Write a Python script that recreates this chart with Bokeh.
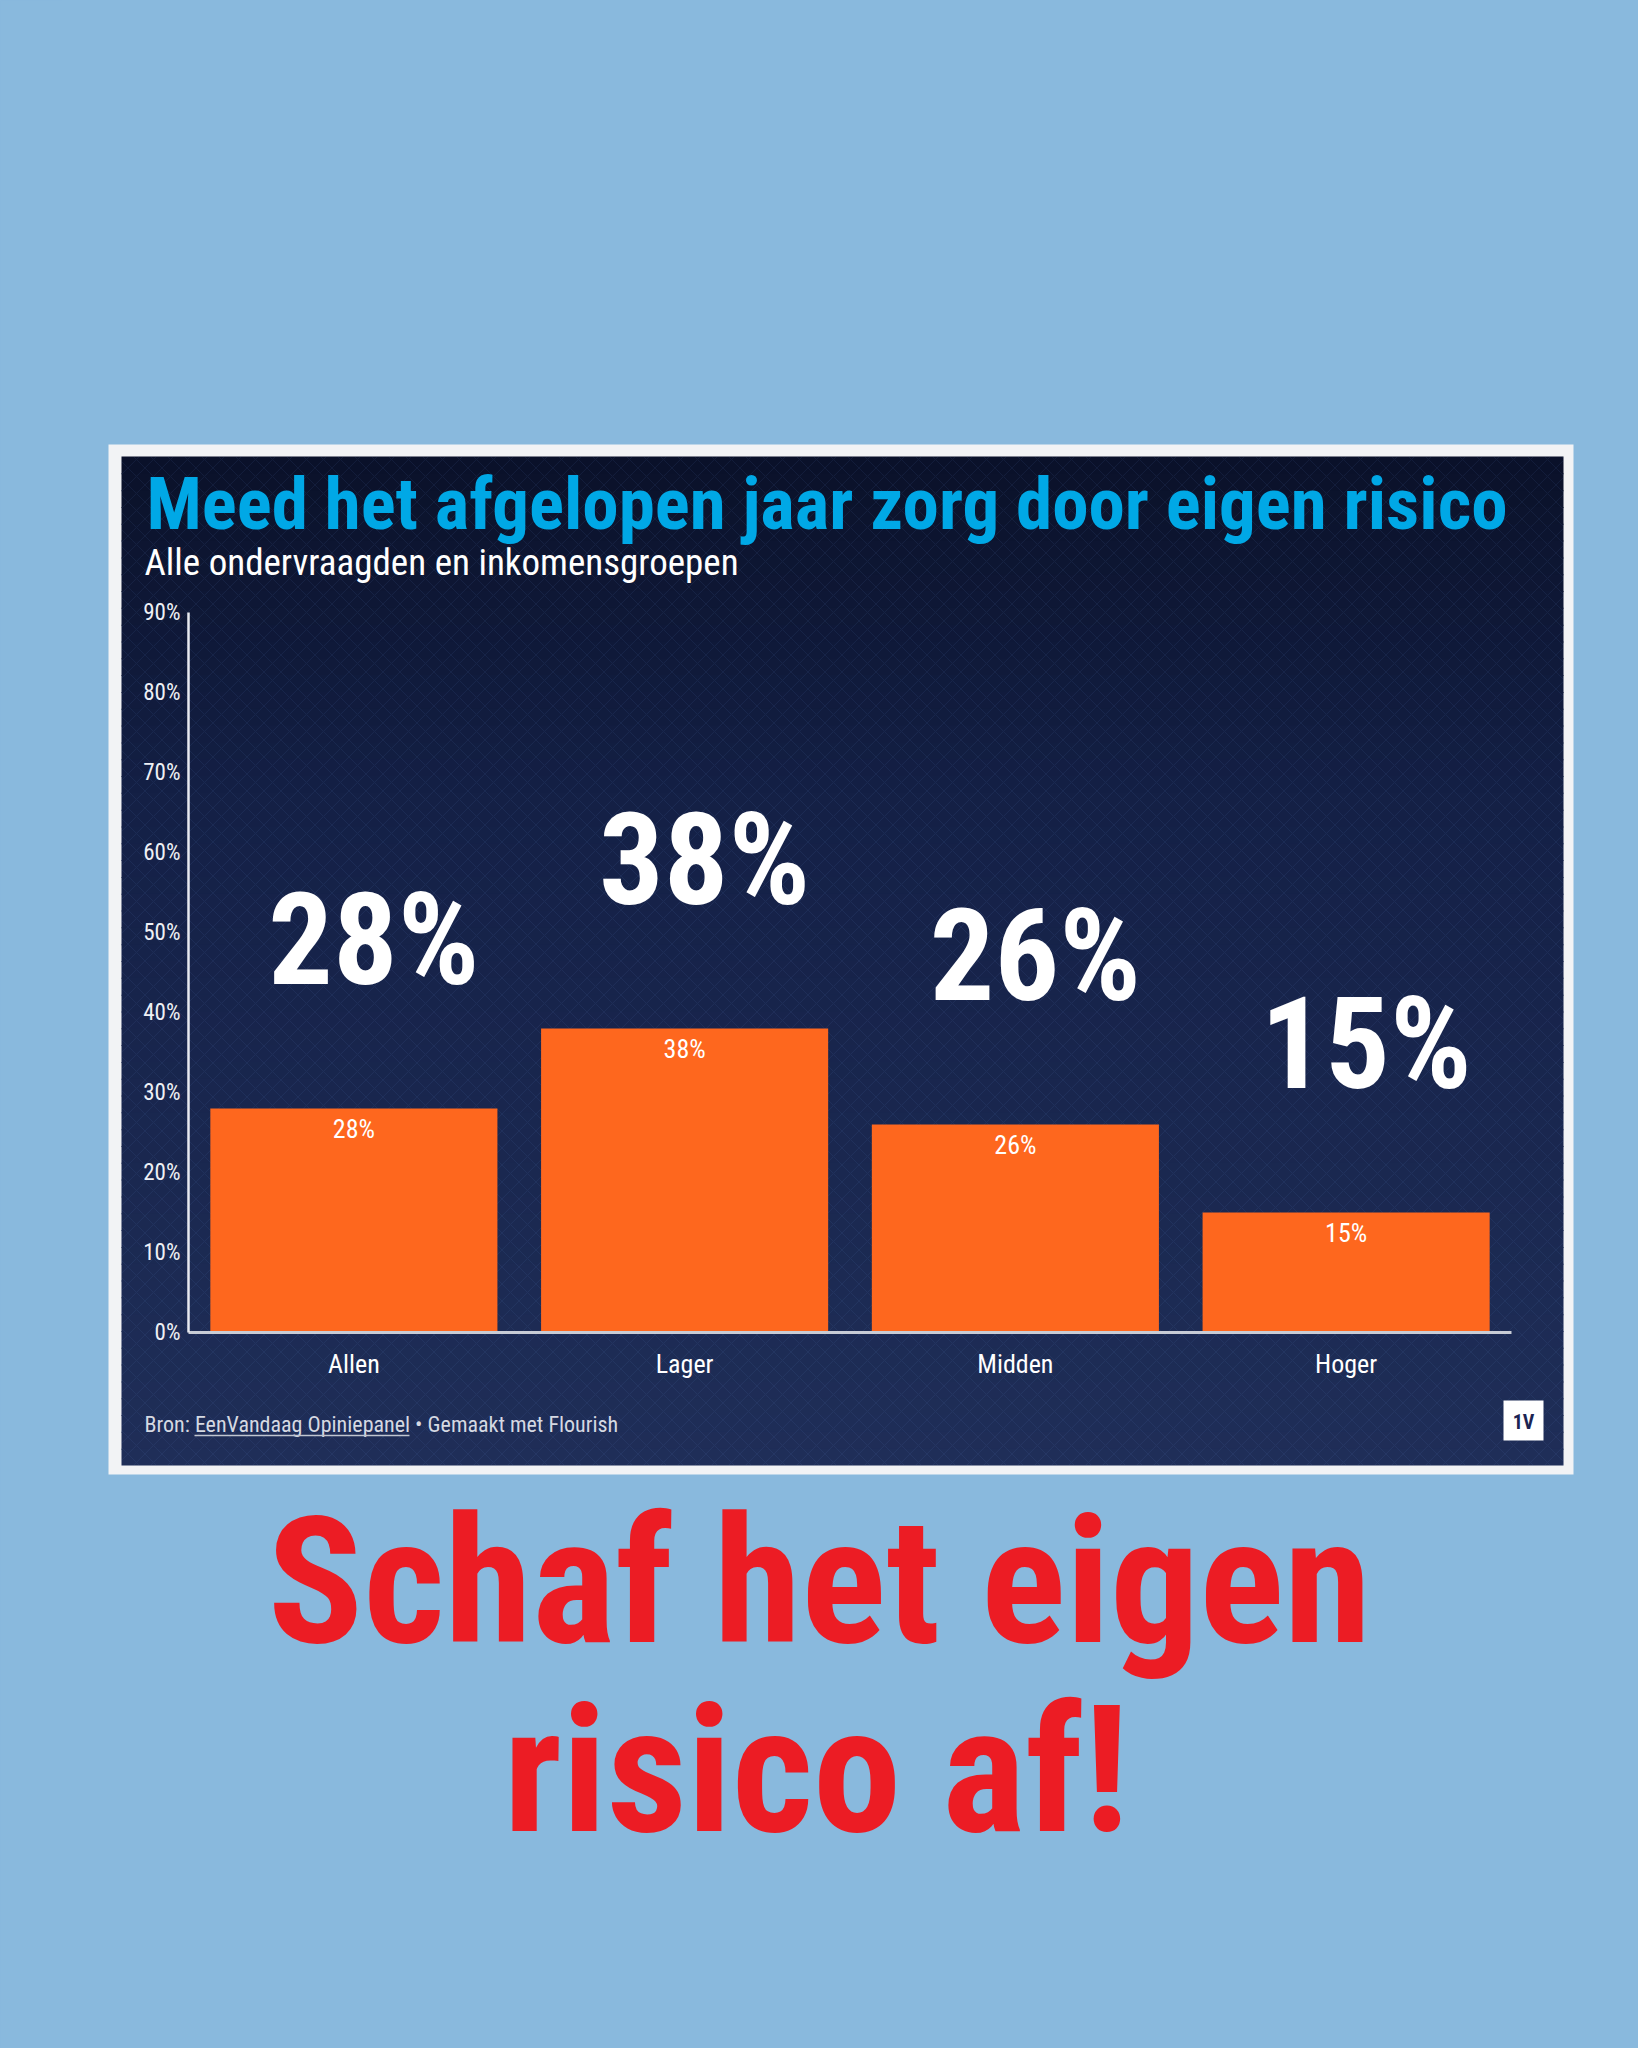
import numpy as np
from bokeh.plotting import figure
from bokeh.models import FactorRange, Range1d, FixedTicker, PrintfTickFormatter
from bokeh.core.properties import value
from bokeh.embed import file_html
from bokeh.resources import INLINE

# ---------------- data ----------------
categories = ["Allen", "Lager", "Midden", "Hoger"]
values = [28, 38, 26, 15]
y_ticks = [0, 10, 20, 30, 40, 50, 60, 70, 80, 90]
title_text = "Meed het afgelopen jaar zorg door eigen risico"
subtitle_text = "Alle ondervraagden en inkomensgroepen"
source_text = "Bron: EenVandaag Opiniepanel \u2022 Gemaakt met Flourish"
logo_text = "1V"
slogan_lines = ["Schaf het eigen", "risico af!"]

# ---------------- layout helpers (page pixels -> data) ----------------
W, H = 1638, 2048
AX_X = 188          # px where the first category band starts (y axis)
UNIT = 330.75       # px per category band
ZERO_Y = 1332       # px of 0 %
PX_PCT = 8          # px per percent
LEFT_BORDER = 61
BASE_FIX = 0.35     # baseline correction (fraction of font size)


def dx(px):
    return (px - AX_X) / UNIT


def dy(py):
    return (ZERO_Y - py) / PX_PCT


def dy_base(py, fs):
    # data y for an alphabetic baseline at page pixel py
    return dy(py - BASE_FIX * fs)


FONT = "'Roboto Condensed', 'Liberation Sans Narrow', 'DejaVu Sans Condensed', Roboto, sans-serif"
PAGE_BLUE = "#89B9DD"
FRAME = "#F2F3F5"
ORANGE = "#FE671E"
CYAN = "#00A8E6"
RED = "#EC1C24"

side_pad = ((W - LEFT_BORDER) / UNIT - len(categories)) / 2

p = figure(width=W, height=H,
           x_range=FactorRange(factors=categories, range_padding=side_pad,
                               range_padding_units="absolute"),
           y_range=Range1d(dy(H), dy(0)),
           output_backend="svg", toolbar_location=None,
           min_border_left=LEFT_BORDER, min_border_right=0,
           min_border_top=0, min_border_bottom=0)
p.styles = {"background-color": PAGE_BLUE}
p.background_fill_color = PAGE_BLUE
p.border_fill_color = PAGE_BLUE
p.outline_line_color = None
p.grid.visible = False

# white frame
p.quad(left=[dx(108)], right=[dx(1573)], top=[dy(444)], bottom=[dy(1474)],
       fill_color=FRAME, line_color=None)

# navy panel with vertical gradient
n = 60
edges = np.linspace(456, 1465, n + 1)
c_top = np.array([10, 17, 41])
c_mid = np.array([20, 32, 70])
c_bot = np.array([31, 46, 88])
cols = []
for i in range(n):
    t = (i + 0.5) / n
    if t < 0.35:
        c = c_top + (c_mid - c_top) * (t / 0.35)
    else:
        c = c_mid + (c_bot - c_mid) * ((t - 0.35) / 0.65)
    cols.append("#%02x%02x%02x" % tuple(int(round(v)) for v in c))
p.quad(left=[dx(121)] * n, right=[dx(1563)] * n,
       top=[dy(e) for e in edges[:-1]], bottom=[dy(min(e + 1, 1465)) for e in edges[1:]],
       fill_color=cols, line_color=None)
# faint lattice pattern
p.quad(left=[dx(121)], right=[dx(1563)], top=[dy(456)], bottom=[dy(1465)],
       fill_alpha=0, line_color=None, hatch_pattern="x", hatch_color="#5b7cc4",
       hatch_alpha=0.10, hatch_scale=17, hatch_weight=1)

# bars
p.vbar(x=categories, top=values, bottom=0, width=0.868,
       fill_color=ORANGE, line_color=None)

# labels inside bars
p.text(x=categories, y=[v - 2.5 for v in values], text=[f"{v}%" for v in values],
       text_align="center", text_baseline="middle", text_font_size="26px",
       text_color="white", text_font=value(FONT))

# big labels
BIG = 128
p.text(x=categories, y=[v + 15.5 + BASE_FIX * BIG / PX_PCT for v in values],
       text=[f"{v}%" for v in values],
       x_offset=20, text_align="center", text_baseline="alphabetic",
       text_font_size=f"{BIG}px", text_font_style="bold", text_color="white",
       text_font=value(FONT))

# title / subtitle
p.text(x=[dx(146)], y=[dy_base(529, 73)], text=[title_text], text_align="left",
       text_baseline="alphabetic", text_font_size="73px", text_font_style="bold",
       text_color=CYAN, text_font=value(FONT))
p.text(x=[dx(144)], y=[dy_base(575, 37)], text=[subtitle_text], text_align="left",
       text_baseline="alphabetic", text_font_size="37px", text_color="white",
       text_font=value(FONT))

# footer
p.text(x=[dx(144)], y=[dy(1424)], text=[source_text], text_align="left",
       text_baseline="middle", text_font_size="22px", text_color="#D5D9E2",
       text_font=value(FONT))
p.segment(x0=[dx(194)], x1=[dx(409)], y0=[dy(1435)], y1=[dy(1435)],
          line_color="#C0C5D0", line_width=1.5)

# logo
p.quad(left=[dx(1503)], right=[dx(1543)], top=[dy(1400)], bottom=[dy(1440)],
       fill_color="white", line_color=None)
p.text(x=[dx(1523)], y=[dy(1421)], text=[logo_text], text_align="center",
       text_baseline="middle", text_font_size="20px", text_font_style="bold",
       text_color="#1B2452", text_font=value(FONT))

# slogan
SLOGAN = 177
p.text(x=[dx(819), dx(816)], y=[dy_base(1643, SLOGAN), dy_base(1832, SLOGAN)],
       text=slogan_lines,
       text_align="center", text_baseline="alphabetic", text_font_size=f"{SLOGAN}px",
       text_font_style="bold", text_color=RED, text_font=value(FONT))

# axes
ya = p.yaxis[0]
ya.fixed_location = 0
ya.bounds = (0, 90)
ya.ticker = FixedTicker(ticks=y_ticks)
ya.formatter = PrintfTickFormatter(format="%d%%")
ya.axis_line_color = "#E8EAF0"
ya.axis_line_width = 2.5
ya.major_tick_line_color = None
ya.minor_tick_line_color = None
ya.major_tick_out = 0
ya.major_tick_in = 0
ya.major_label_text_color = "#EEF0F5"
ya.major_label_text_font_size = "23px"
ya.major_label_text_font = FONT
ya.major_label_standoff = 8

xa = p.xaxis[0]
xa.fixed_location = 0
xa.bounds = (0, 4)
xa.axis_line_color = "#C8CCD6"
xa.axis_line_width = 3
xa.major_tick_line_color = None
xa.minor_tick_line_color = None
xa.major_tick_out = 0
xa.major_tick_in = 0
xa.major_label_text_color = "white"
xa.major_label_text_font_size = "26px"
xa.major_label_text_font = FONT
xa.major_label_standoff = 16

open("out.html", "w").write(file_html(p, INLINE))
